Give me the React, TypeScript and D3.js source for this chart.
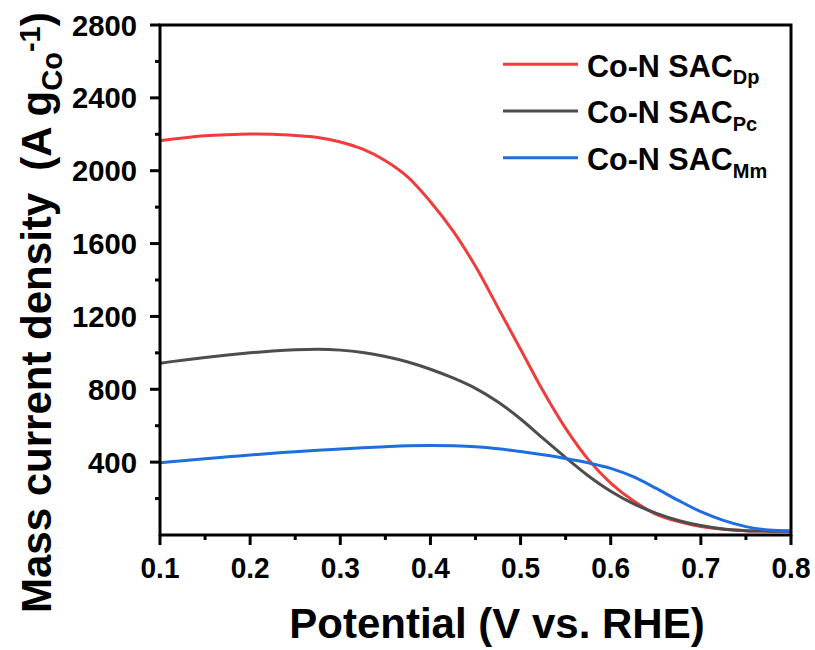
import React from "react";
import * as d3 from "d3";

const potential = [0.1, 0.125, 0.15, 0.175, 0.2, 0.225, 0.25, 0.275, 0.3, 0.325, 0.35, 0.375, 0.4, 0.425, 0.45, 0.475, 0.5, 0.525, 0.55, 0.575, 0.6, 0.625, 0.65, 0.675, 0.7, 0.725, 0.75, 0.775, 0.8];
const dpValues = [2165, 2180, 2192, 2198, 2201, 2200, 2193, 2182, 2158, 2118, 2055, 1965, 1830, 1670, 1475, 1248, 1020, 790, 585, 415, 285, 188, 115, 74, 47, 31, 23, 21, 20];
const pcValues = [943, 960, 975, 988, 1000, 1010, 1017, 1020, 1015, 1002, 980, 950, 910, 862, 805, 730, 637, 530, 425, 325, 240, 172, 120, 80, 52, 33, 24, 21, 20];
const mmValues = [396, 408, 419, 429, 439, 449, 457, 465, 472, 479, 485, 490, 492, 490, 485, 474, 458, 440, 420, 396, 366, 320, 257, 190, 128, 80, 46, 27, 22];

const xMajorTicks = [0.1, 0.2, 0.3, 0.4, 0.5, 0.6, 0.7, 0.8];
const xMinorTicks = [0.15, 0.25, 0.35, 0.45, 0.55, 0.65, 0.75];
const yMajorTicks = [400, 800, 1200, 1600, 2000, 2400, 2800];
const yMinorTicks = [200, 600, 1000, 1400, 1800, 2200, 2600];

const seriesNames = ["Dp", "Pc", "Mm"];
const seriesColors = ["#f03c3c", "#4d4d4d", "#1e6ee0"];
const seriesData = [dpValues, pcValues, mmValues];

export default function App() {
  const x = d3.scaleLinear().domain([0.1, 0.8]).range([160, 791]);
  const y = d3.scaleLinear().domain([0, 2800]).range([535, 25]);
  const line = d3
    .line<number>()
    .x((_, i) => x(potential[i]))
    .y((d) => y(d))
    .curve(d3.curveCatmullRom.alpha(0.5));

  const font = "'Liberation Sans', Arial, sans-serif";
  const x0 = x.range()[0];
  const x1 = x.range()[1];
  const y0 = y.range()[0];
  const y1 = y.range()[1];

  return (
    <svg
      width={815}
      height={650}
      style={{ position: "absolute", left: 0, top: 0, background: "#fff" }}
      fontFamily={font}
      fontWeight="bold"
    >
      <rect x={0} y={0} width={815} height={650} fill="#fff" />
      <defs>
        <clipPath id="plot">
          <rect x={x0} y={y1} width={x1 - x0} height={y0 - y1} />
        </clipPath>
      </defs>
      <g clipPath="url(#plot)">
        {seriesData.map((vals, k) => (
          <path key={k} d={line(vals) || ""} fill="none" stroke={seriesColors[k]} strokeWidth={3} />
        ))}
      </g>
      {/* frame */}
      <rect x={x0} y={y1} width={x1 - x0} height={y0 - y1} fill="none" stroke="#000" strokeWidth={3} />
      {/* x ticks */}
      {xMajorTicks.map((t) => (
        <g key={"xm" + t}>
          <line x1={x(t)} x2={x(t)} y1={y0} y2={y0 + 10} stroke="#000" strokeWidth={3} />
          <text x={x(t)} y={578} textAnchor="middle" fontSize={30} textLength={39} lengthAdjust="spacingAndGlyphs">
            {t.toFixed(1)}
          </text>
        </g>
      ))}
      {xMinorTicks.map((t) => (
        <line key={"xn" + t} x1={x(t)} x2={x(t)} y1={y0} y2={y0 + 5} stroke="#000" strokeWidth={3} />
      ))}
      {/* y ticks */}
      {yMajorTicks.map((t) => (
        <g key={"ym" + t}>
          <line x1={x0} x2={x0 - 10} y1={y(t)} y2={y(t)} stroke="#000" strokeWidth={3} />
          <text
            x={137}
            y={y(t) + 10.5}
            textAnchor="end"
            fontSize={29}
            textLength={t >= 1000 ? 65 : 49}
            lengthAdjust="spacingAndGlyphs"
          >
            {t}
          </text>
        </g>
      ))}
      {yMinorTicks.map((t) => (
        <line key={"yn" + t} x1={x0} x2={x0 - 5} y1={y(t)} y2={y(t)} stroke="#000" strokeWidth={3} />
      ))}
      {/* x title */}
      <text x={497} y={638} textAnchor="middle" fontSize={42}>
        Potential (V vs. RHE)
      </text>
      {/* y title */}
      <text transform="translate(51,613) rotate(-90)" fontSize={42} textAnchor="start">
        <tspan>Mass current density</tspan>
        <tspan dx={22}>(A g</tspan>
        <tspan fontSize={29} dy={11}>Co</tspan>
        <tspan fontSize={29} dy={-22}>-1</tspan>
        <tspan dy={11}>)</tspan>
      </text>
      {/* legend */}
      {seriesNames.map((n, k) => {
        const ly = 64.3 + k * 46.7;
        return (
          <g key={n}>
            <line x1={503} x2={578} y1={ly} y2={ly} stroke={seriesColors[k]} strokeWidth={3} />
            <text x={587} y={ly + 12.4} fontSize={30.5}>
              Co-N SAC
              <tspan fontSize={20} dy={7.5}>{n}</tspan>
            </text>
          </g>
        );
      })}
    </svg>
  );
}
